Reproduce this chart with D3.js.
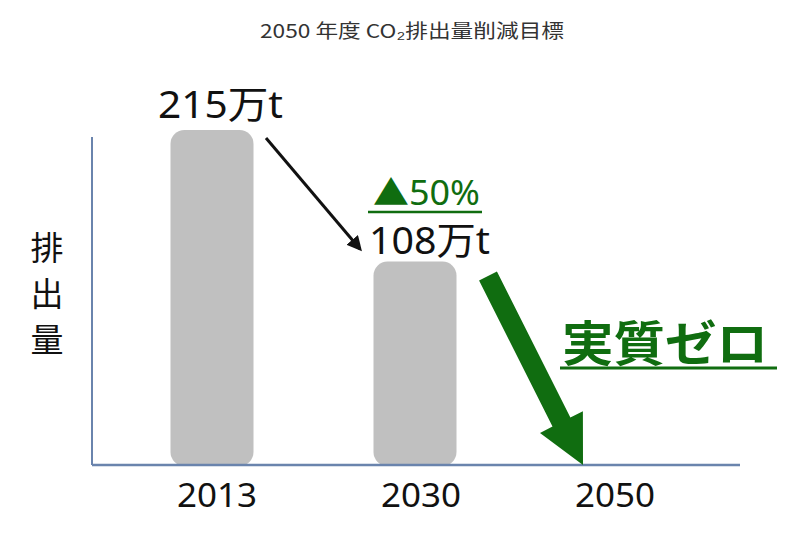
<!DOCTYPE html>
<html><head><meta charset="utf-8">
<script src="https://cdn.jsdelivr.net/npm/d3@7"></script>
<style>body{margin:0;background:#fff}svg{display:block}</style>
</head><body>
<svg id="c" width="800" height="533"></svg>
<script>
const years = ["2013", "2030", "2050"];
const values = [215, 108, 0];
const valueLabels = ["215万t", "108万t", ""];
const reductionLabel = "▲50%";
const zeroLabel = "実質ゼロ";
const yLabel = ["排", "出", "量"];
const title = "2050 年度 CO₂排出量削減目標";

const svg = d3.select("#c");
const green = "#106d10";
const axisColor = "#6a84ad";
const baseY = 465;
const x = d3.scalePoint().domain(years).range([212, 618]);
const y = d3.scaleLinear().domain([-57.5, 215]).range([baseY, 130]);
const barW = 83;
const fontLat = "'Noto Sans', 'Noto Sans CJK JP', sans-serif";

svg.append("text").attr("x", 412).attr("y", 38).attr("text-anchor", "middle")
  .attr("font-family", "'Noto Sans CJK JP', sans-serif").attr("font-size", 19).attr("fill", "#333")
  .attr("textLength", 304).attr("lengthAdjust", "spacingAndGlyphs")
  .text(title);

// bars
const bars = years.map((yr, i) => ({yr, v: values[i]})).filter(d => d.v > 0);
svg.selectAll("rect.bar").data(bars).enter().append("rect").attr("class", "bar")
  .attr("x", d => x(d.yr) - barW / 2).attr("y", d => y(d.v))
  .attr("width", barW).attr("height", d => baseY + 1 - y(d.v))
  .attr("rx", 14).attr("ry", 14).attr("fill", "#c0c0c0");

// axes
svg.append("line").attr("x1", 92).attr("x2", 92).attr("y1", 137).attr("y2", baseY)
  .attr("stroke", axisColor).attr("stroke-width", 2);
svg.append("line").attr("x1", 92).attr("x2", 740).attr("y1", baseY).attr("y2", baseY)
  .attr("stroke", axisColor).attr("stroke-width", 2.5);

// tick labels
const tickOffset = [5, 6, -3];
svg.selectAll("text.tick").data(years).enter().append("text").attr("class", "tick")
  .attr("x", (d, i) => x(d) + tickOffset[i]).attr("y", 507).attr("text-anchor", "middle")
  .attr("font-family", fontLat).attr("font-size", 33).attr("fill", "#111")
  .attr("textLength", 80).attr("lengthAdjust", "spacingAndGlyphs")
  .text(d => d);

// y label
svg.selectAll("text.yl").data(yLabel).enter().append("text").attr("class", "yl")
  .attr("x", 47).attr("y", (d, i) => 260 + i * 46).attr("text-anchor", "middle")
  .attr("font-family", "'Noto Sans CJK JP', sans-serif").attr("font-size", 33).attr("fill", "#111")
  .text(d => d);

// value labels
svg.append("text").attr("x", 158).attr("y", 118)
  .attr("font-family", fontLat).attr("font-size", 38).attr("fill", "#111")
  .attr("textLength", 125).attr("lengthAdjust", "spacingAndGlyphs")
  .text(valueLabels[0]);
svg.append("text").attr("x", 369).attr("y", 254)
  .attr("font-family", fontLat).attr("font-size", 38).attr("fill", "#111")
  .attr("textLength", 121).attr("lengthAdjust", "spacingAndGlyphs")
  .text(valueLabels[1]);

// reduction label
svg.append("text").attr("x", 373).attr("y", 205)
  .attr("font-family", fontLat).attr("font-size", 34).attr("fill", green)
  .attr("textLength", 107).attr("lengthAdjust", "spacingAndGlyphs")
  .text(reductionLabel);
svg.append("line").attr("x1", 368).attr("x2", 482).attr("y1", 212).attr("y2", 212)
  .attr("stroke", green).attr("stroke-width", 2.5);

// black arrow
const defs = svg.append("defs");
defs.append("marker").attr("id", "ah").attr("viewBox", "0 0 10 10").attr("refX", 8).attr("refY", 5)
  .attr("markerWidth", 5).attr("markerHeight", 5).attr("orient", "auto")
  .append("path").attr("d", "M0,0 L10,5 L0,10 z").attr("fill", "#111");
svg.append("line").attr("x1", 266).attr("y1", 138).attr("x2", 360).attr("y2", 249)
  .attr("stroke", "#111").attr("stroke-width", 3).attr("marker-end", "url(#ah)");

// green arrow
(function () {
  const sx = 488, sy = 276, tx = 583, ty = baseY;
  const dx = tx - sx, dy = ty - sy, L = Math.hypot(dx, dy);
  const ux = dx / L, uy = dy / L, nx = -uy, ny = ux;
  const sw = 10, hw = 24, hl = 48;
  const bx = tx - ux * hl, by = ty - uy * hl;
  const pts = [
    [sx + nx * sw, sy + ny * sw], [bx + nx * sw, by + ny * sw], [bx + nx * hw, by + ny * hw],
    [tx, ty], [bx - nx * hw, by - ny * hw], [bx - nx * sw, by - ny * sw], [sx - nx * sw, sy - ny * sw]
  ];
  svg.append("path").attr("d", d3.line()(pts) + "Z").attr("fill", green);
})();

// zero label
svg.append("text").attr("x", 562).attr("y", 361)
  .attr("font-family", "'Noto Sans CJK JP', sans-serif").attr("font-weight", "bold")
  .attr("font-size", 48).attr("fill", green)
  .attr("textLength", 206).attr("lengthAdjust", "spacingAndGlyphs")
  .text(zeroLabel);
svg.append("line").attr("x1", 560).attr("x2", 777).attr("y1", 368).attr("y2", 368)
  .attr("stroke", green).attr("stroke-width", 3);
</script>
</body></html>
